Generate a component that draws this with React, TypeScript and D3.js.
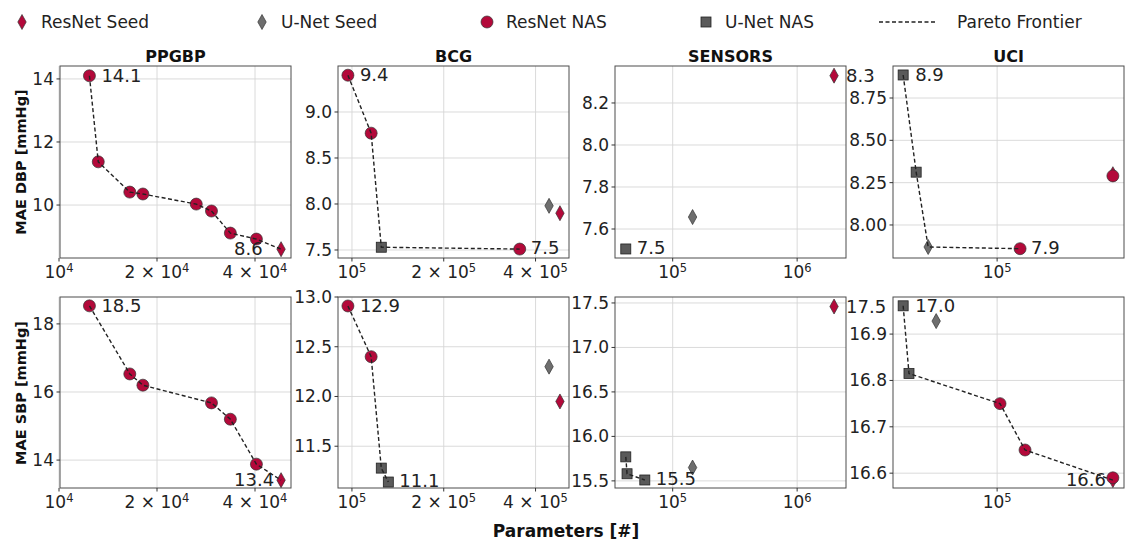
import * as React from "react";
import * as d3 from "d3";

// kinds: RS = ResNet Seed, US = U-Net Seed, RN = ResNet NAS, UN = U-Net NAS
const datasets = ["PPGBP", "BCG", "SENSORS", "UCI"];
const rowLabels = ["MAE DBP [mmHg]", "MAE SBP [mmHg]"];

const xDomains = [[1.007e4, 5.16e4], [9.0e4, 5.15e5], [3.44e4, 2.47e6], [2.44e4, 5.58e5]];
const xTicks = [[1e4, 2e4, 4e4], [1e5, 2e5, 4e5], [1e5, 1e6], [1e5]];

// top row (DBP)
const ppgbpDbpParams = [1.24e4, 1.32e4, 1.65e4, 1.81e4, 2.64e4, 2.94e4, 3.36e4, 4.04e4, 4.81e4];
const ppgbpDbpMae = [14.1, 11.37, 10.41, 10.35, 10.03, 9.81, 9.11, 8.92, 8.6];
const ppgbpDbpKind = ["RN", "RN", "RN", "RN", "RN", "RN", "RN", "RN", "RS"];

const bcgDbpParams = [9.7e4, 1.156e5, 1.248e5, 3.55e5, 4.43e5, 4.81e5];
const bcgDbpMae = [9.4, 8.77, 7.53, 7.51, 7.98, 7.9];
const bcgDbpKind = ["RN", "RN", "UN", "RN", "US", "RS"];

const sensorsDbpParams = [4.2e4, 1.445e5, 1.98e6];
const sensorsDbpMae = [7.505, 7.657, 8.33];
const sensorsDbpKind = ["UN", "US", "RS"];

const uciDbpParams = [2.8e4, 3.34e4, 3.93e4, 1.365e5, 4.8e5, 4.8e5];
const uciDbpMae = [8.886, 8.312, 7.87, 7.86, 8.3, 8.29];
const uciDbpKind = ["UN", "UN", "US", "RN", "RS", "RN"];

// bottom row (SBP)
const ppgbpSbpParams = [1.24e4, 1.65e4, 1.81e4, 2.94e4, 3.36e4, 4.04e4, 4.81e4];
const ppgbpSbpMae = [18.53, 16.53, 16.2, 15.68, 15.2, 13.88, 13.41];
const ppgbpSbpKind = ["RN", "RN", "RN", "RN", "RN", "RN", "RS"];

const bcgSbpParams = [9.7e4, 1.156e5, 1.248e5, 1.316e5, 4.43e5, 4.81e5];
const bcgSbpMae = [12.91, 12.4, 11.28, 11.14, 12.3, 11.95];
const bcgSbpKind = ["RN", "RN", "UN", "UN", "US", "RS"];

const sensorsSbpParams = [4.2e4, 4.3e4, 5.97e4, 1.445e5, 1.98e6];
const sensorsSbpMae = [15.77, 15.58, 15.51, 15.65, 17.46];
const sensorsSbpKind = ["UN", "UN", "UN", "US", "RS"];

const uciSbpParams = [2.8e4, 3.03e4, 4.38e4, 1.04e5, 1.46e5, 4.8e5, 4.8e5];
const uciSbpMae = [16.961, 16.815, 16.928, 16.75, 16.65, 16.585, 16.59];
const uciSbpKind = ["UN", "UN", "US", "RN", "RN", "RS", "RN"];

const yDomains = [
  [[8.32, 14.41], [7.413, 9.5], [7.462, 8.376], [7.805, 8.939]],
  [[13.18, 18.79], [11.08, 13.0], [15.42, 17.567], [16.568, 16.98]],
];
const yTicks = [
  [[10, 12, 14], [7.5, 8.0, 8.5, 9.0], [7.6, 7.8, 8.0, 8.2], [8.0, 8.25, 8.5, 8.75]],
  [[14, 16, 18], [11.5, 12.0, 12.5, 13.0], [15.5, 16.0, 16.5, 17.0, 17.5], [16.6, 16.7, 16.8, 16.9]],
];
const yFormats = [[".0f", ".1f", ".1f", ".2f"], [".0f", ".1f", ".1f", ".1f"]];

const panelData = [
  [
    [ppgbpDbpParams, ppgbpDbpMae, ppgbpDbpKind],
    [bcgDbpParams, bcgDbpMae, bcgDbpKind],
    [sensorsDbpParams, sensorsDbpMae, sensorsDbpKind],
    [uciDbpParams, uciDbpMae, uciDbpKind],
  ],
  [
    [ppgbpSbpParams, ppgbpSbpMae, ppgbpSbpKind],
    [bcgSbpParams, bcgSbpMae, bcgSbpKind],
    [sensorsSbpParams, sensorsSbpMae, sensorsSbpKind],
    [uciSbpParams, uciSbpMae, uciSbpKind],
  ],
];

const RED = "#b3093a";
const GREY = "#6e6e6e";
const FONT = "DejaVu Sans, sans-serif";

const lefts = [60, 338, 615, 893];
const tops = [66, 297];
const W = 231;
const H = 192;

const Marker = ({ kind, x, y }: { kind: string; x: number; y: number }) => {
  if (kind === "RS" || kind === "US") {
    const fill = kind === "RS" ? RED : GREY;
    return <path d={`M${x},${y - 7.5}L${x + 4.2},${y}L${x},${y + 7.5}L${x - 4.2},${y}Z`}
      fill={fill} stroke="#333" strokeWidth={0.7} />;
  }
  if (kind === "RN") {
    return <circle cx={x} cy={y} r={6} fill={RED} stroke="#333" strokeWidth={0.7} />;
  }
  return <rect x={x - 5} y={y - 5} width={10} height={10} fill="#5a5a5a" stroke="#222" strokeWidth={0.8} />;
};

const xTickLabel = (v: number) => {
  const e = Math.floor(Math.log10(v) + 1e-9);
  const m = Math.round(v / Math.pow(10, e));
  return { pre: m === 1 ? "10" : `${m} \u00d7 10`, exp: String(e) };
};

const kindOrder: Record<string, number> = { US: 0, RS: 1, UN: 2, RN: 3 };

const Panel = ({ row, col }: { row: number; col: number }) => {
  const left = lefts[col];
  const top = tops[row];
  const h = row === 0 ? H : H - 1;
  const x = d3.scaleLog().domain(xDomains[col]).range([left, left + W]);
  const y = d3.scaleLinear().domain(yDomains[row][col]).range([top + h, top]);
  const [params, mae, kinds] = panelData[row][col] as [number[], number[], string[]];
  const pts = params.map((p, i) => ({ p, m: mae[i], k: kinds[i] }));

  // pareto frontier: sorted by params, keep strictly improving error
  const sorted = [...pts].sort((a, b) => d3.ascending(a.p, b.p) || d3.ascending(a.m, b.m));
  const front: typeof pts = [];
  let best = Infinity;
  for (const d of sorted) {
    if (d.m < best) { front.push(d); best = d.m; }
  }
  const line = d3.line<{ p: number; m: number }>().x(d => x(d.p)).y(d => y(d.m));

  const maxPt = pts[d3.maxIndex(pts, d => d.m)];
  const minPt = pts[d3.minIndex(pts, d => d.m)];
  const fmt = d3.format(yFormats[row][col]);
  const drawOrder = [...pts].sort((a, b) => kindOrder[a.k] - kindOrder[b.k]);

  const minX = x(minPt.p);
  const minLabelX = minX > left + 0.85 * W ? minX - 47 : minX + 11;

  return <g>
    {yTicks[row][col].map(t => <line key={"gy" + t} x1={left} x2={left + W} y1={y(t)} y2={y(t)} stroke="#d6d6d6" strokeWidth={0.9} />)}
    {xTicks[col].map(t => <line key={"gx" + t} x1={x(t)} x2={x(t)} y1={top} y2={top + h} stroke="#d6d6d6" strokeWidth={0.9} />)}
    <rect x={left} y={top} width={W} height={h} fill="none" stroke="#4d4d4d" strokeWidth={1} />
    {yTicks[row][col].map(t => <g key={"ty" + t}>
      <line x1={left - 3.5} x2={left} y1={y(t)} y2={y(t)} stroke="#333" />
      <text x={left - 6} y={y(t)} dy="0.35em" textAnchor="end" fontSize={17} fill="#222">{fmt(t)}</text>
    </g>)}
    {xTicks[col].map(t => {
      const l = xTickLabel(t);
      return <g key={"tx" + t}>
        <line x1={x(t)} x2={x(t)} y1={top + h} y2={top + h + 3.5} stroke="#333" />
        <text x={x(t)} y={top + h + 20} textAnchor="middle" fontSize={17} fill="#222">
          {l.pre}<tspan dy={-6} fontSize={11.5}>{l.exp}</tspan>
        </text>
      </g>;
    })}
    {drawOrder.map((d, i) => <Marker key={"m" + i} kind={d.k} x={x(d.p)} y={y(d.m)} />)}
    {front.length > 1 && <path d={line(front) || ""} fill="none" stroke="#222" strokeWidth={1.4} strokeDasharray="4,2.5" />}
    <text x={x(maxPt.p) + 12} y={y(maxPt.m)} dy="0.35em" fontSize={18} fill="#222">{d3.format(".1f")(maxPt.m)}</text>
    <text x={minLabelX} y={y(minPt.m)} dy="0.3em" fontSize={18} fill="#222">{d3.format(".1f")(minPt.m)}</text>
  </g>;
};

export default function App() {
  const legendItems = [
    { kind: "RS", label: "ResNet Seed", mx: 22 },
    { kind: "US", label: "U-Net Seed", mx: 262 },
    { kind: "RN", label: "ResNet NAS", mx: 487 },
    { kind: "UN", label: "U-Net NAS", mx: 706 },
  ];
  return <svg width={1133} height={546} style={{ position: "absolute", left: 0, top: 0, background: "#fff" }}
    fontFamily={FONT}>
    <rect width={1133} height={546} fill="#fff" />
    {legendItems.map(it => <g key={it.label}>
      <Marker kind={it.kind} x={it.mx} y={22} />
      <text x={it.mx + 19} y={22} dy="0.35em" fontSize={17} fill="#222">{it.label}</text>
    </g>)}
    <line x1={879} x2={935} y1={22} y2={22} stroke="#222" strokeWidth={1.4} strokeDasharray="4,2.5" />
    <text x={957} y={22} dy="0.35em" fontSize={17} fill="#222">Pareto Frontier</text>

    {datasets.map((name, c) => <text key={name} x={lefts[c] + W / 2} y={56} dy="0.35em" textAnchor="middle"
      fontSize={16} fontWeight="bold" fill="#111">{name}</text>)}
    {rowLabels.map((lab, r) => <text key={lab} transform={`translate(21,${tops[r] + H / 2}) rotate(-90)`}
      textAnchor="middle" dy="0.35em" fontSize={14.5} fontWeight="bold" fill="#111">{lab}</text>)}
    <text x={566} y={531} dy="0.35em" textAnchor="middle" fontSize={17} fontWeight="bold" fill="#111">Parameters [#]</text>

    {[0, 1].map(r => datasets.map((_, c) => <Panel key={r + "-" + c} row={r} col={c} />))}
  </svg>;
}
